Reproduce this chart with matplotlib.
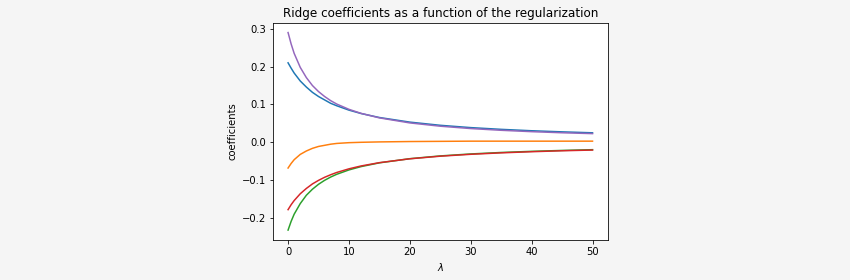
import matplotlib
matplotlib.use("Agg")
import matplotlib.pyplot as plt

# значения lambda
lambdas = [0, 0.5, 1, 2, 3, 4, 5, 6, 7, 8, 10, 12, 15, 20, 25, 30, 35, 40, 45, 50]

# коэффициенты
coef_blue = [0.210, 0.196, 0.183, 0.162, 0.146, 0.132, 0.121, 0.112, 0.103, 0.0965,
             0.085, 0.076, 0.0655, 0.0533, 0.0449, 0.0388, 0.0342, 0.0305, 0.0276, 0.0251]
coef_orange = [-0.068, -0.056, -0.046, -0.032, -0.023, -0.016, -0.011, -0.008, -0.005, -0.003,
               -0.001, 0.000, 0.001, 0.002, 0.0025, 0.003, 0.003, 0.003, 0.003, 0.003]
coef_green = [-0.232, -0.209, -0.190, -0.162, -0.140, -0.124, -0.111, -0.1005, -0.0918, -0.0845,
              -0.073, -0.0642, -0.0543, -0.0433, -0.036, -0.0308, -0.0269, -0.0239, -0.0215, -0.0195]
coef_red = [-0.178, -0.165, -0.154, -0.136, -0.122, -0.110, -0.1006, -0.0925, -0.0857, -0.0797,
            -0.0701, -0.0625, -0.0538, -0.0436, -0.0367, -0.0317, -0.0279, -0.0249, -0.0224, -0.0205]
coef_purple = [0.290, 0.260, 0.235, 0.198, 0.171, 0.150, 0.134, 0.121, 0.110, 0.101,
               0.0871, 0.0764, 0.0645, 0.0512, 0.0425, 0.0363, 0.0317, 0.0281, 0.0252, 0.0229]

coefs = [coef_blue, coef_orange, coef_green, coef_red, coef_purple]

fig = plt.figure(figsize=(850 / 72, 280 / 72), dpi=72, facecolor="#f5f5f5")
ax = fig.add_axes([0.321, 0.143, 0.394, 0.776])
ax.set_facecolor("white")

for c in coefs:
    ax.plot(lambdas, c)

ax.set_title("Ridge coefficients as a function of the regularization")
ax.set_xlabel(r"$\lambda$")
ax.set_ylabel("coefficients")

fig.savefig("out.png", dpi=72, facecolor=fig.get_facecolor())
